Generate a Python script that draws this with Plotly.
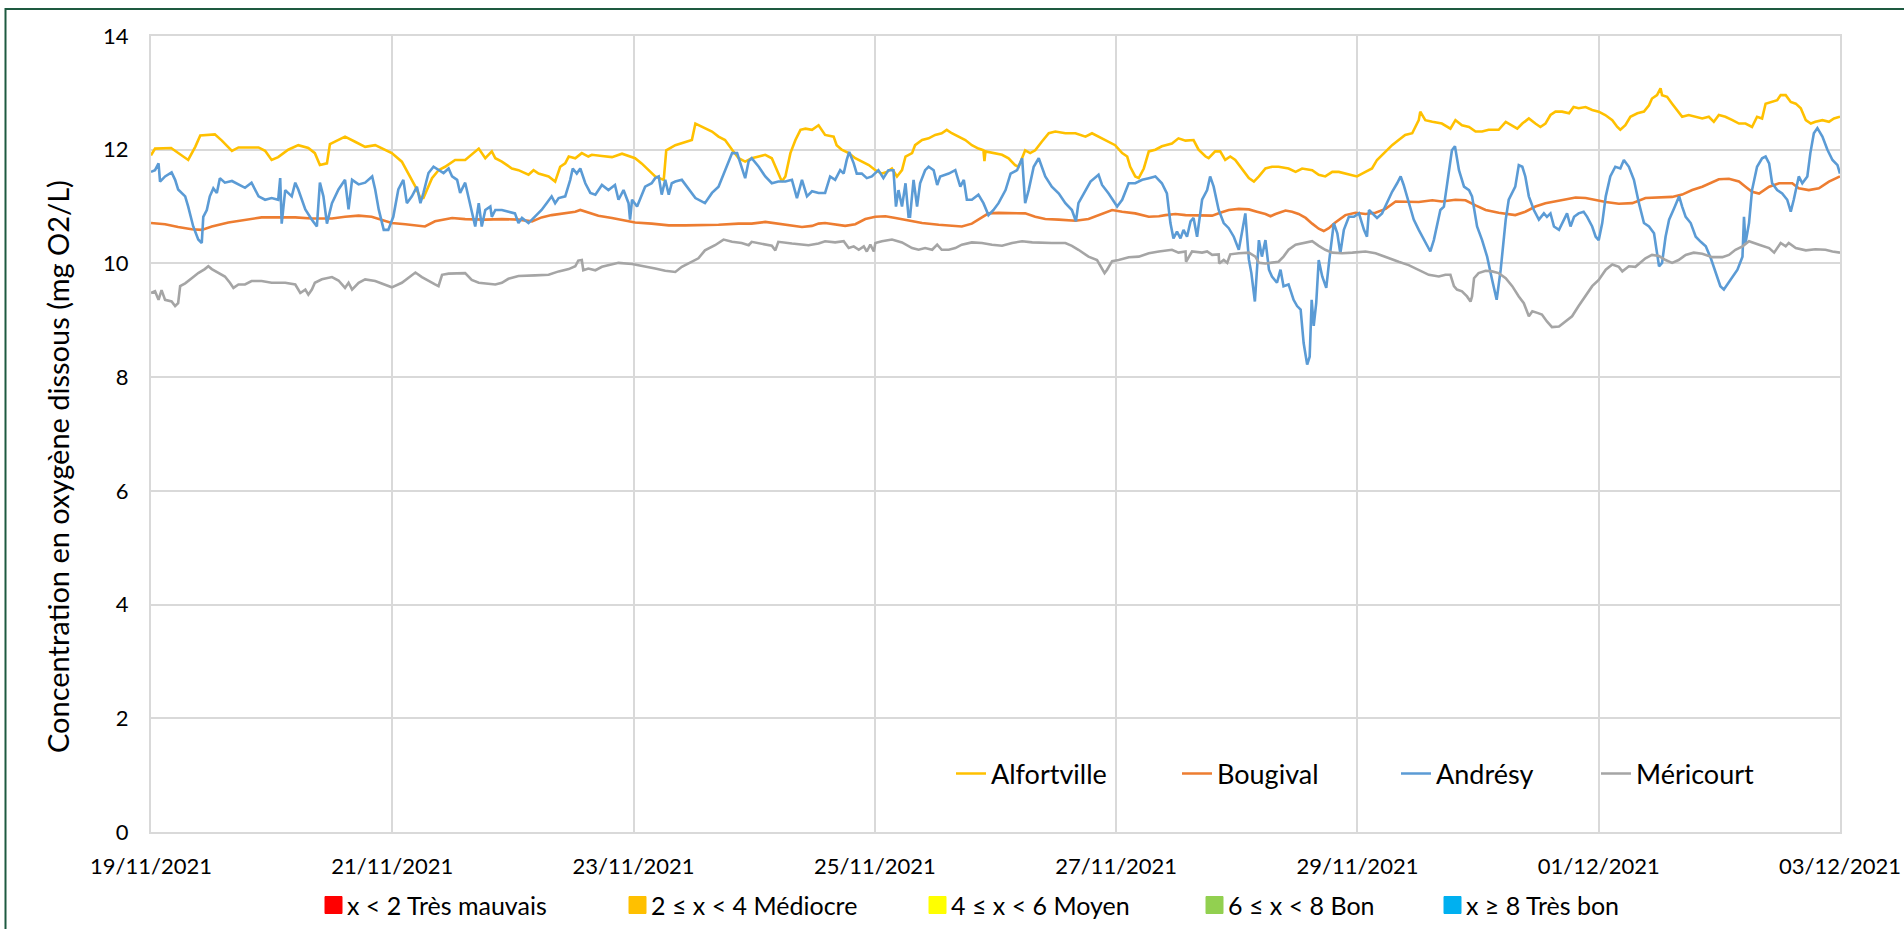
import pandas as pd
import plotly.graph_objects as go

START = pd.Timestamp("2021-11-19 00:00")
END = pd.Timestamp("2021-12-03 00:00")

series_names = ["Alfortville", "Bougival", "Andrésy", "Méricourt"]
series_colors = ["#FFC000", "#ED7D31", "#5B9BD5", "#A5A5A5"]

# hours since 19/11/2021 00:00 and dissolved oxygen (mg O2/L)
h_alfortville = [0, 0.8, 4.0, 7.4, 8.8, 9.8, 12.7, 14.1, 16.1, 17.4, 21.4, 22.7, 24.0, 25.3, 27.3, 29.3, 31.3, 32.6, 33.6, 35.0,
                 35.6, 37.0, 38.6, 40.6, 42.6, 44.6, 45.9, 47.9, 49.9, 51.2, 52.6, 53.6, 54.2, 55.9, 57.2, 58.5, 60.5, 62.5, 65.2,
                 66.5, 67.8, 68.5, 69.8, 71.8, 73.1, 75.1, 76.1, 77.1, 79.1, 80.4, 81.4, 82.4, 83.1, 84.4, 85.7, 87.0, 87.7, 89.7,
                 91.7, 93.7, 95.0, 96.3, 97.6, 99.0, 100.3, 102.0, 102.5, 104.3, 106.3, 107.6, 108.3, 109.0, 110.2, 111.6, 112.9,
                 114.2, 115.6, 116.9, 118.2, 119.5, 120.9, 122.2, 123.5, 124.5, 125.5, 126.2, 127.2, 128.2, 129.2, 130.2, 131.5,
                 132.8, 134.1, 135.8, 136.4, 137.4, 138.8, 140.1, 141.4, 142.8, 144.1, 145.4, 146.4, 147.4, 148.4, 149.4, 150.1,
                 151.4, 152.0, 153.4, 154.7, 156.0, 157.3, 158.3, 159.3, 160.7, 162.0, 163.3, 164.6, 165.6, 165.8, 166.0, 168.0,
                 169.3, 170.6, 171.9, 172.6, 173.9, 174.9, 175.9, 177.2, 178.6, 179.9, 181.9, 183.9, 185.9, 187.2, 188.5, 190.5,
                 191.8, 193.2, 194.2, 194.8, 195.8, 196.5, 197.5, 198.5, 199.8, 201.1, 203.1, 204.4, 205.8, 207.4, 208.4, 209.8,
                 210.4, 211.7, 212.7, 213.7, 214.7, 215.7, 217.0, 218.4, 219.4, 220.4, 221.7, 223.0, 224.3, 226.3, 227.7, 229.0,
                 231.0, 232.3, 233.6, 235.0, 236.3, 237.9, 239.9, 241.6, 242.9, 243.9, 245.6, 246.9, 248.2, 249.5, 250.9, 252.2,
                 252.5, 253.5, 254.9, 256.8, 258.5, 259.5, 260.8, 262.2, 263.5, 264.8, 266.1, 268.1, 269.5, 270.8, 271.8, 272.8,
                 274.1, 275.4, 276.4, 277.4, 278.4, 279.4, 280.7, 282.1, 283.0, 284.0, 285.4, 286.7, 288.0, 289.3, 290.7, 291.7,
                 292.3, 293.3, 294.3, 295.7, 297.0, 298.0, 298.6, 299.6, 300.3, 300.6, 301.6, 302.6, 303.6, 304.6, 305.9, 307.3,
                 308.6, 309.9, 310.9, 311.9, 313.2, 314.6, 315.9, 317.2, 318.5, 319.5, 320.5, 321.2, 322.5, 323.5, 324.2, 325.2,
                 326.2, 327.2, 328.2, 329.2, 330.2, 331.1, 332.5, 333.8, 334.8, 336.0]
v_alfortville = [11.9, 12.02, 12.03, 11.82, 12.05, 12.25, 12.27, 12.16, 11.98, 12.04, 12.04, 11.98, 11.82, 11.87, 12.0, 12.08,
                 12.03, 11.94, 11.73, 11.76, 12.1, 12.16, 12.23, 12.14, 12.05, 12.08, 12.02, 11.94, 11.79, 11.58, 11.35, 11.15,
                 11.15, 11.5, 11.64, 11.7, 11.82, 11.82, 12.02,
                 11.85, 11.97, 11.85, 11.79, 11.67, 11.64, 11.56, 11.64, 11.58, 11.53, 11.44, 11.7, 11.76, 11.88, 11.85, 11.94,
                 11.88, 11.91, 11.89, 11.87, 11.93, 11.89, 11.85, 11.76, 11.64, 11.53, 11.47, 11.99, 12.08, 12.14, 12.17, 12.46,
                 12.43, 12.37, 12.32, 12.23, 12.17, 12.0, 11.85, 11.79, 11.85, 11.88, 11.91, 11.85, 11.64, 11.44, 11.53, 11.94,
                 12.17, 12.35, 12.37, 12.35, 12.43,
                 12.26, 12.23, 12.08, 12.0, 11.94, 11.85, 11.79, 11.73, 11.64, 11.58, 11.61, 11.67, 11.53, 11.64, 11.88, 11.94,
                 12.08, 12.17, 12.2, 12.26, 12.29, 12.35, 12.29, 12.23, 12.17, 12.08, 12.02, 11.99, 11.8, 11.97, 11.94, 11.91,
                 11.85, 11.73, 11.7, 11.99, 11.94, 11.99, 12.14, 12.29, 12.32, 12.29, 12.29, 12.23, 12.29, 12.23, 12.14, 12.08,
                 11.94, 11.88, 11.7, 11.53, 11.5, 11.67, 11.97, 12.0, 12.06,
                 12.11, 12.2, 12.16, 12.17, 12.0, 11.88, 11.85, 11.97, 11.97, 11.82, 11.88, 11.82, 11.67, 11.5, 11.44, 11.53,
                 11.67, 11.7, 11.7, 11.67, 11.61, 11.67, 11.64, 11.56, 11.53, 11.61, 11.61, 11.58, 11.53, 11.61, 11.67, 11.82,
                 11.97, 12.08, 12.17, 12.26, 12.29, 12.52, 12.67, 12.52, 12.49, 12.46, 12.37, 12.52, 12.43, 12.4, 12.32, 12.32,
                 12.35, 12.35,
                 12.49, 12.43, 12.37, 12.46, 12.55, 12.46, 12.4, 12.46, 12.61, 12.67, 12.67, 12.64, 12.75, 12.73, 12.75, 12.7,
                 12.67, 12.61, 12.52, 12.4, 12.35, 12.43, 12.58, 12.64, 12.67, 12.78, 12.9, 12.96, 13.08, 12.96, 12.93, 12.81,
                 12.7, 12.58, 12.61, 12.58, 12.55, 12.58, 12.49, 12.61, 12.58, 12.52, 12.46, 12.46, 12.4, 12.58, 12.55, 12.81,
                 12.84, 12.87, 12.96, 12.96, 12.84, 12.81, 12.73, 12.52, 12.46, 12.49, 12.52, 12.49, 12.55, 12.58]

h_bougival = [0, 2.8, 5.4, 8.1, 10.1, 12.1, 15.4, 18.7, 22.0, 25.3, 28.7, 32.0, 36.0, 38.6, 41.3, 43.9, 45.9, 47.9, 50.6, 54.5,
              56.5, 57.9, 59.9, 62.5, 65.2,
              66.5, 69.8, 73.1, 75.8, 77.7, 79.7, 82.4, 84.4, 85.4, 87.0, 89.0, 91.7, 94.3, 96.3, 99.6, 103.0, 106.3, 112.9,
              116.9, 119.5, 122.2, 124.8, 127.5, 129.5, 131.5, 132.8,
              134.1, 136.1, 138.1, 140.1, 142.1, 144.1, 146.1, 148.1, 150.7, 153.4, 156.7, 159.3, 161.3, 163.3, 164.6, 166.6,
              168.6, 171.3, 173.9, 175.9, 177.9, 180.6, 183.9, 186.5, 189.2, 191.2, 193.2, 195.8, 198.5, 200.5,
              201.8, 203.8, 205.8, 208.4, 211.1, 212.7, 214.4, 216.4, 218.4, 220.0, 221.7, 222.7, 223.7, 225.7, 227.0, 228.3,
              229.7, 231.0, 232.3, 233.3, 234.3, 235.6, 237.6, 239.6, 241.6, 243.6, 245.6, 247.6, 249.6, 252.2, 254.9, 256.8,
              259.5, 261.5, 263.5, 265.5, 268.1,
              269.5, 271.4, 273.4, 275.4, 277.4, 279.4, 281.4, 283.4, 285.4, 287.4, 289.4, 292.0, 294.7, 297.3, 300.0, 302.6,
              304.6, 306.6, 308.6, 310.6, 311.9, 313.9, 315.9, 317.2, 318.5, 319.9, 321.9, 323.9, 326.5, 327.8, 329.8, 331.8,
              333.8, 336.0]
v_bougival = [10.71, 10.69, 10.64, 10.6, 10.59, 10.65, 10.72, 10.77, 10.81, 10.81, 10.81, 10.79, 10.79, 10.82, 10.84, 10.82,
              10.77, 10.71, 10.69, 10.65, 10.74, 10.77, 10.8, 10.78, 10.77,
              10.77, 10.78, 10.77, 10.74, 10.81, 10.85, 10.88, 10.91, 10.94, 10.9, 10.84, 10.8, 10.76, 10.72, 10.7, 10.67,
              10.67, 10.68, 10.7, 10.7, 10.73, 10.7, 10.67, 10.64, 10.66, 10.7,
              10.71, 10.68, 10.66, 10.69, 10.78, 10.82, 10.83, 10.8, 10.75, 10.71, 10.68, 10.66, 10.65, 10.7, 10.77, 10.88,
              10.89, 10.88, 10.88, 10.82, 10.78, 10.77, 10.75, 10.78, 10.88, 10.94, 10.91, 10.88, 10.82, 10.83,
              10.85, 10.87, 10.85, 10.85, 10.84, 10.89, 10.94, 10.96, 10.95, 10.91, 10.87, 10.83, 10.87, 10.93, 10.91, 10.87,
              10.8, 10.7, 10.61, 10.57, 10.62, 10.72, 10.85, 10.89, 10.87, 10.89, 10.96, 11.09, 11.08, 11.08, 11.11, 11.09,
              11.12, 11.11, 11.02, 10.94, 10.89,
              10.87, 10.85, 10.91, 11.0, 11.06, 11.09, 11.13, 11.16, 11.15, 11.11, 11.08, 11.05, 11.06, 11.15, 11.16, 11.17,
              11.21, 11.29, 11.35, 11.43, 11.48, 11.49, 11.44, 11.35, 11.26, 11.23, 11.35, 11.41, 11.41, 11.32, 11.29, 11.32,
              11.44, 11.53]

h_andresy = [0, 0.8, 1.5, 1.8, 2.8, 4.1, 4.8, 5.4, 6.8, 7.4, 8.4, 9.4, 10.1, 10.4, 11.1, 11.7, 12.4, 13.1, 13.7, 14.7, 16.1,
             17.4, 18.7, 20.0, 21.4, 22.7, 24.0, 25.3, 25.7, 26.0, 26.7, 28.0, 28.7, 29.3, 30.7, 32.0, 33.0, 33.6, 34.3, 35.0,
             36.0, 37.3, 38.6, 39.3, 40.0, 41.3, 42.6, 44.0, 44.6, 45.3, 46.3, 47.2, 48.2, 49.2, 50.2, 50.9, 51.9, 52.9, 53.6,
             54.2, 55.2, 56.2, 57.2, 58.2, 59.2, 59.9, 60.9, 61.5, 62.5, 63.5, 64.5, 65.2, 65.8, 66.5,
             67.5, 67.8, 68.5, 69.8, 71.1, 72.4, 73.1, 73.8, 75.1, 76.4, 77.7, 78.7, 79.7, 80.4, 81.1, 82.4, 83.4, 83.9, 84.7,
             85.4, 86.4, 87.4, 88.4, 89.7, 91.0, 92.3, 93.0, 94.0, 95.0, 95.3, 95.7, 96.7, 97.6, 98.3, 99.6, 100.3, 101.0,
             101.6, 102.3, 103.0, 103.6, 104.3, 105.6, 107.0, 108.3, 110.2, 111.6, 112.9, 113.9, 114.9, 115.6, 116.6, 117.5,
             118.2, 118.9, 119.5, 120.9, 122.2, 123.5, 124.8, 126.2, 127.5, 128.5, 129.5, 130.5, 131.5, 132.8, 134.1,
             135.1, 136.1, 137.1, 137.8, 138.4, 138.9, 139.8, 140.4, 141.4, 142.4, 143.4, 144.7, 145.7, 146.7, 147.7, 148.2,
             148.7, 149.4, 150.1, 150.7, 151.0, 151.7, 152.4, 153.0, 154.0, 154.7, 155.7, 156.4, 157.0, 158.7, 160.0, 161.0,
             161.7, 162.3, 163.3, 164.6, 165.6, 166.6, 167.6, 168.6, 170.0, 171.0, 172.3, 173.3, 173.9, 174.6, 175.6, 176.6,
             177.9, 179.2, 180.6, 181.9, 183.2, 184.0, 184.5, 185.5, 186.9, 188.5, 189.2, 190.5, 192.2, 193.2, 194.5, 195.8,
             197.2, 198.5, 199.8, 201.1,
             202.1, 202.8, 203.4, 204.1, 204.8, 205.4, 206.1, 206.8, 207.4, 208.1, 209.1, 210.1, 210.7, 211.4, 212.4, 213.4,
             214.4, 215.4, 216.4, 217.0, 217.7, 218.4, 218.9, 219.6, 220.4, 221.0, 221.7, 222.4, 223.0, 224.0, 224.7, 225.3,
             226.3, 227.3, 228.0, 228.7, 229.3, 230.0, 230.5, 230.9, 231.3, 231.8, 232.3, 233.0, 233.8, 234.4, 235.3, 236.0,
             236.6, 237.3, 238.3, 239.3, 240.3, 241.3, 241.9, 242.3, 243.3, 243.9, 244.9, 245.9, 246.9, 247.9, 248.6, 249.2,
             250.2, 251.2, 252.2, 253.5, 254.5, 255.2, 255.9, 256.5, 257.2, 257.8, 258.8, 259.4, 260.2, 261.2, 262.2, 262.8,
             263.8, 264.8, 265.8, 266.8, 267.7, 268.5, 269.5, 270.1,
             271.4, 272.1, 272.8, 273.4, 274.1, 275.1, 276.1, 277.1, 277.7, 278.4, 279.1, 280.1, 281.1, 281.7, 282.4, 283.1,
             284.0, 285.0, 285.7, 286.7, 287.4, 288.0, 288.7, 289.4, 290.3, 291.3, 292.3, 293.0, 294.0, 295.0, 296.0, 297.0,
             298.0, 299.0, 300.0, 300.6, 301.3, 302.0, 303.0, 304.0, 304.6, 305.3, 306.3, 307.3, 308.3, 309.3, 310.3, 311.3,
             312.2, 312.9, 313.6, 314.6, 315.6, 316.6, 316.9, 317.2, 317.9, 318.5, 319.5, 320.5, 321.2, 321.9, 322.5, 323.5,
             324.5, 325.5, 326.2, 326.8, 327.8, 328.5, 329.5, 330.1, 330.8, 331.5, 332.5, 333.5, 334.5, 335.5, 336.0]
v_andresy = [11.61, 11.64, 11.76, 11.44, 11.53, 11.6, 11.47, 11.3, 11.18, 11.0, 10.65, 10.42, 10.36, 10.82, 10.94, 11.18,
             11.32, 11.24, 11.5, 11.42, 11.45, 11.39, 11.33, 11.42, 11.18, 11.12, 11.15, 11.12, 11.5, 10.7, 11.29, 11.18,
             11.42, 11.3, 10.95, 10.77, 10.65, 11.42, 11.18, 10.7, 11.06, 11.3, 11.47, 10.95, 11.47, 11.39, 11.42, 11.53,
             11.3, 10.95, 10.59, 10.59, 10.82, 11.3, 11.47, 11.06, 11.18, 11.35, 11.06, 11.24, 11.59, 11.7, 11.64, 11.59,
             11.67, 11.53, 11.47, 11.24, 11.42, 11.06, 10.65, 11.06, 10.65, 10.94,
             11.0, 10.82, 10.94, 10.94, 10.91, 10.88, 10.71, 10.8, 10.71, 10.82, 10.94, 11.06, 11.18, 11.06, 11.15, 11.18,
             11.47, 11.67, 11.58, 11.67, 11.41, 11.24, 11.21, 11.38, 11.29, 11.38, 11.12, 11.29, 11.06, 10.77, 11.12, 11.0,
             11.18, 11.35, 11.41, 11.5, 11.53, 11.21, 11.47, 11.21, 11.41, 11.44, 11.47, 11.3, 11.15, 11.06, 11.24, 11.35,
             11.56, 11.76, 11.94, 11.94, 11.7, 11.5, 11.8, 11.85, 11.7, 11.53, 11.41, 11.44, 11.44, 11.47, 11.15, 11.47,
             11.18, 11.27, 11.24, 11.24,
             11.53, 11.47, 11.64, 11.58, 11.82, 11.96, 11.76, 11.58, 11.58, 11.5, 11.53, 11.64, 11.5, 11.64, 11.64, 11.0,
             11.29, 11.0, 11.41, 10.82, 10.82, 11.47, 11.0, 11.41, 11.64, 11.7, 11.64, 11.38, 11.53, 11.58, 11.64, 11.35,
             11.47, 11.12, 11.12, 11.21, 11.06, 10.85, 10.94, 11.06, 11.29, 11.58, 11.64, 11.85, 11.06, 11.29, 11.7, 11.85,
             11.53, 11.35, 11.23, 11.06, 10.94, 10.74, 11.06, 11.23, 11.44, 11.56, 11.38, 11.23, 11.0, 11.12, 11.41, 11.41,
             11.47, 11.5, 11.53, 11.41,
             11.23, 10.71, 10.44, 10.56, 10.44, 10.59, 10.47, 10.74, 10.8, 10.47, 11.12, 11.29, 11.53, 11.35, 10.94, 10.71,
             10.62, 10.47, 10.24, 10.53, 10.88, 10.07, 9.83, 9.33, 10.41, 10.12, 10.41, 9.89, 9.77, 9.66, 9.89, 9.6,
             9.63, 9.36, 9.25, 9.19, 8.6, 8.22, 8.36, 9.36, 8.9, 9.3, 10.06, 9.77, 9.57, 10.06, 10.71, 10.53,
             10.18, 10.59, 10.82, 10.82, 10.88, 10.59, 10.47, 10.94, 10.85, 10.8, 10.88, 11.06, 11.26, 11.41, 11.53, 11.38,
             11.06, 10.77, 10.59, 10.36, 10.21, 10.41, 10.71, 10.94, 11.0, 11.35, 11.99, 12.06, 11.64, 11.35, 11.29, 11.18,
             10.65, 10.41, 10.12, 9.71, 9.36, 9.89, 10.77, 11.12,
             11.35, 11.73, 11.7, 11.53, 11.18, 10.94, 10.77, 10.88, 10.82, 10.88, 10.65, 10.59, 10.77, 10.88, 10.65, 10.82,
             10.88, 10.91, 10.82, 10.65, 10.47, 10.41, 10.71, 11.18, 11.53, 11.7, 11.67, 11.82, 11.7, 11.47, 11.06, 10.71,
             10.65, 10.53, 9.95, 10.01, 10.47, 10.77, 10.97, 11.18, 11.0, 10.82, 10.71, 10.47, 10.38, 10.3, 10.09, 9.83,
             9.6, 9.54, 9.63, 9.77, 9.89, 10.12, 10.82, 10.36, 10.71, 11.29, 11.7, 11.85, 11.88, 11.76, 11.41, 11.29,
             11.23, 11.12, 10.91, 11.12, 11.53, 11.41, 11.53, 11.94, 12.29, 12.38, 12.23, 12.0, 11.82, 11.73, 11.58]

h_mericourt = [0, 0.8, 1.5, 2.1, 2.8, 4.1, 4.8, 5.4, 5.8, 6.8, 8.1, 9.4, 10.7, 11.4, 12.1, 13.4, 14.7, 15.7, 16.4, 17.4,
               18.7, 20.0, 22.0, 24.0, 26.7, 28.7, 29.7, 30.7, 31.3, 32.0, 32.6, 34.0, 36.0, 37.3, 38.6, 39.3, 40.0, 41.3,
               42.6, 44.6, 46.6, 47.9, 49.9, 51.2, 52.6, 53.9, 55.2, 56.5, 57.2, 57.9, 59.2, 61.2, 62.5, 63.8, 65.2,
               68.5, 69.8, 71.1, 73.1, 76.4, 79.1, 81.1, 83.1, 84.4, 85.0, 85.7, 86.0, 87.0, 88.4, 89.7, 91.7, 93.0, 95.7,
               98.3, 100.3, 102.3, 104.3, 105.6, 107.0, 108.9, 110.2, 112.2, 113.9, 115.6, 117.5, 118.9, 119.5, 121.5, 123.5,
               124.2, 124.8, 127.5, 130.8, 132.8,
               134.1, 136.1, 137.8, 138.8, 139.8, 140.8, 141.8, 142.4, 143.1, 143.8, 144.1, 145.4, 147.4, 149.4, 151.4,
               152.7, 154.0, 155.4, 156.4, 157.3, 158.7, 160.0, 161.3, 163.3, 165.3, 167.3, 169.3, 171.3, 173.3, 175.3,
               177.3, 179.2, 181.9, 183.2, 184.5, 186.5, 188.2, 189.2, 189.7, 190.2, 191.2, 192.5, 194.5, 196.5, 198.5, 200.5,
               203.1, 204.4, 205.8, 205.9, 207.1, 209.1, 210.1, 211.1, 212.4, 212.5, 213.4, 214.1, 214.7, 216.4, 218.4,
               219.7, 220.4, 221.7, 223.0, 224.3, 225.3, 226.3, 227.7, 229.7, 231.0, 232.3, 233.6, 235.0, 237.0, 239.0,
               241.6, 243.6, 245.6, 248.2, 250.2, 252.2, 254.2, 256.2, 257.5, 258.5, 259.2, 259.8, 260.8, 261.8, 262.5,
               262.8, 263.2, 264.1, 265.5, 266.8, 268.1,
               269.5, 270.8, 272.1, 273.1, 274.1, 274.8, 275.8, 276.7, 277.7, 278.7, 280.1, 281.4, 282.7, 284.0, 285.4,
               286.7, 288.0, 289.4, 290.7, 292.0, 292.7, 294.0, 295.3, 296.3, 297.3, 298.6, 300.0, 301.3, 302.6, 303.9,
               305.3, 306.9, 308.6, 310.6, 312.6, 313.9, 315.2, 316.6, 317.9, 319.9, 321.9, 322.9, 324.2, 325.2, 325.8,
               327.2, 329.2, 331.1, 333.1, 334.5, 336.0]
v_mericourt = [9.48, 9.51, 9.36, 9.53, 9.36, 9.33, 9.25, 9.3, 9.6, 9.65, 9.74, 9.83, 9.9, 9.95, 9.9, 9.83, 9.77, 9.66, 9.57,
               9.63, 9.63, 9.69, 9.69, 9.66, 9.66, 9.63, 9.48, 9.54, 9.45, 9.54, 9.66, 9.72, 9.76, 9.7, 9.57, 9.66, 9.54,
               9.66, 9.72, 9.69, 9.63, 9.58, 9.66, 9.74, 9.84, 9.76, 9.69, 9.63, 9.6, 9.8, 9.82, 9.82, 9.83, 9.71, 9.66,
               9.63, 9.66, 9.73, 9.78, 9.79, 9.8, 9.86, 9.9, 9.95, 10.05, 10.06, 9.88, 9.91, 9.88, 9.94, 9.99, 10.01, 9.99,
               9.95, 9.91, 9.87, 9.85, 9.94, 10.0, 10.09, 10.23, 10.32, 10.42, 10.38, 10.36, 10.32, 10.38, 10.34, 10.31,
               10.23, 10.38, 10.35, 10.32, 10.35,
               10.39, 10.37, 10.39, 10.27, 10.3, 10.24, 10.3, 10.21, 10.33, 10.21, 10.36, 10.39, 10.42, 10.37, 10.27,
               10.24, 10.27, 10.24, 10.33, 10.24, 10.24, 10.27, 10.33, 10.37, 10.36, 10.33, 10.31, 10.36, 10.39, 10.37,
               10.36, 10.36, 10.36, 10.31, 10.24, 10.12, 10.06, 9.91, 9.83, 9.89, 10.04, 10.06, 10.11, 10.12, 10.18, 10.21,
               10.24, 10.19, 10.21, 10.03, 10.21, 10.19, 10.21, 10.15, 10.16, 10.0, 10.06, 10.01, 10.16, 10.18, 10.19,
               10.12, 10.01, 10.0, 10.01, 10.03, 10.12, 10.24, 10.33, 10.36, 10.39, 10.31, 10.24, 10.19, 10.18, 10.19,
               10.21, 10.18, 10.11, 10.03, 9.97, 9.88, 9.8, 9.77, 9.8, 9.8, 9.6, 9.54, 9.51, 9.42, 9.33,
               9.42, 9.74, 9.83, 9.87, 9.86, 9.83,
               9.74, 9.6, 9.42, 9.3, 9.07, 9.16, 9.13, 9.1, 8.98, 8.88, 8.89, 8.98, 9.07, 9.25, 9.42,
               9.6, 9.71, 9.89, 9.98, 9.94, 9.86, 9.95, 9.94, 10.01, 10.09, 10.15, 10.13, 10.06, 10.01, 10.06,
               10.15, 10.19, 10.17, 10.11, 10.11, 10.15, 10.24, 10.3, 10.39, 10.33, 10.27, 10.19, 10.36, 10.3, 10.36,
               10.27, 10.23, 10.25, 10.24, 10.21, 10.19]

series_hours = [h_alfortville, h_bougival, h_andresy, h_mericourt]
series_values = [v_alfortville, v_bougival, v_andresy, v_mericourt]

quality_labels = ["x < 2 Très mauvais", "2 ≤ x < 4 Médiocre", "4 ≤ x < 6 Moyen", "6 ≤ x < 8 Bon", "x ≥ 8 Très bon"]
quality_colors = ["#FF0000", "#FFC000", "#FFFF00", "#92D050", "#00B0F0"]
quality_px = [325, 629, 929, 1206, 1444]

y_title = "Concentration en oxygène dissous (mg O2/L)"

# ---- geometry: page pixels (body margin removed by post_script) ----
W, H = 1904, 929
L, R, T, B = 151, 1840, 36, 832
PW, PH = R - L, B - T
FONT = "Lato, 'Open Sans', sans-serif"


def px(x):
    return (x - L) / PW


def py(y):
    return (B - y) / PH


legend_ids = ["legend", "legend2", "legend3", "legend4"]
legend_px = [951, 1177, 1396, 1596]

fig = go.Figure()
for name, color, hrs, vals, lid in zip(series_names, series_colors, series_hours, series_values, legend_ids):
    x = [START + pd.Timedelta(hours=h) for h in hrs]
    fig.add_trace(go.Scatter(x=x, y=vals, mode="lines", name=name, legend=lid,
                             line=dict(color=color, width=2.6), hoverinfo="x+y+name"))

grid = "#D9D9D9"
layout_legends = {}
for lid, lx in zip(legend_ids, legend_px):
    layout_legends[lid] = dict(orientation="h", x=px(lx), xanchor="left", y=py(774), yanchor="middle",
                               font=dict(family=FONT, size=27, color="#000000"),
                               bgcolor="rgba(0,0,0,0)", borderwidth=0,
                               itemclick=False, itemdoubleclick=False)

fig.update_layout(
    width=W, height=H,
    margin=dict(l=L, r=W - R, t=T, b=H - B, pad=0, autoexpand=False),
    paper_bgcolor="white", plot_bgcolor="white",
    font=dict(family=FONT, color="#000000", size=22),
    showlegend=True,
    xaxis=dict(type="date", range=[START, END], tick0=START, dtick=2 * 86400000,
               tickformat="%d/%m/%Y", showgrid=True, gridcolor=grid, gridwidth=2,
               showline=True, linecolor=grid, linewidth=2, mirror=True, automargin=False,
               ticks="", ticklabelstandoff=14, ticklabeloverflow="allow",
               tickfont=dict(size=22, family=FONT, color="#000000"),
               zeroline=False),
    yaxis=dict(range=[0, 14], dtick=2, tick0=0, showgrid=True, gridcolor=grid, gridwidth=2,
               showline=True, linecolor=grid, linewidth=2, mirror=True, automargin=False,
               ticks="", ticklabelstandoff=16, tickfont=dict(size=22, family=FONT, color="#000000"),
               zeroline=False),
    **layout_legends,
)

shapes = [dict(type="rect", xref="paper", yref="paper",
               x0=px(5.5), x1=px(1960), y0=py(9), y1=py(960),
               line=dict(color="#1E5A40", width=2), fillcolor="rgba(0,0,0,0)", layer="above")]
annotations = [dict(text=y_title, xref="paper", yref="paper", x=px(58), y=py(467),
                    xanchor="center", yanchor="middle", textangle=-90, showarrow=False,
                    font=dict(family=FONT, size=29, color="#000000"))]
for lab, col, x0 in zip(quality_labels, quality_colors, quality_px):
    shapes.append(dict(type="rect", xref="paper", yref="paper",
                       x0=px(x0), x1=px(x0 + 17), y0=py(913.5), y1=py(896.5),
                       line=dict(color=col, width=1), fillcolor=col))
    annotations.append(dict(text=lab, xref="paper", yref="paper", x=px(x0 + 20), y=py(905),
                            xanchor="left", yanchor="middle", showarrow=False,
                            font=dict(family=FONT, size=25, color="#000000")))
fig.update_layout(shapes=shapes, annotations=annotations)

fig.write_html("out.html", config={"displayModeBar": False},
               post_script="document.body.style.margin='0';document.body.style.overflow='hidden';")
